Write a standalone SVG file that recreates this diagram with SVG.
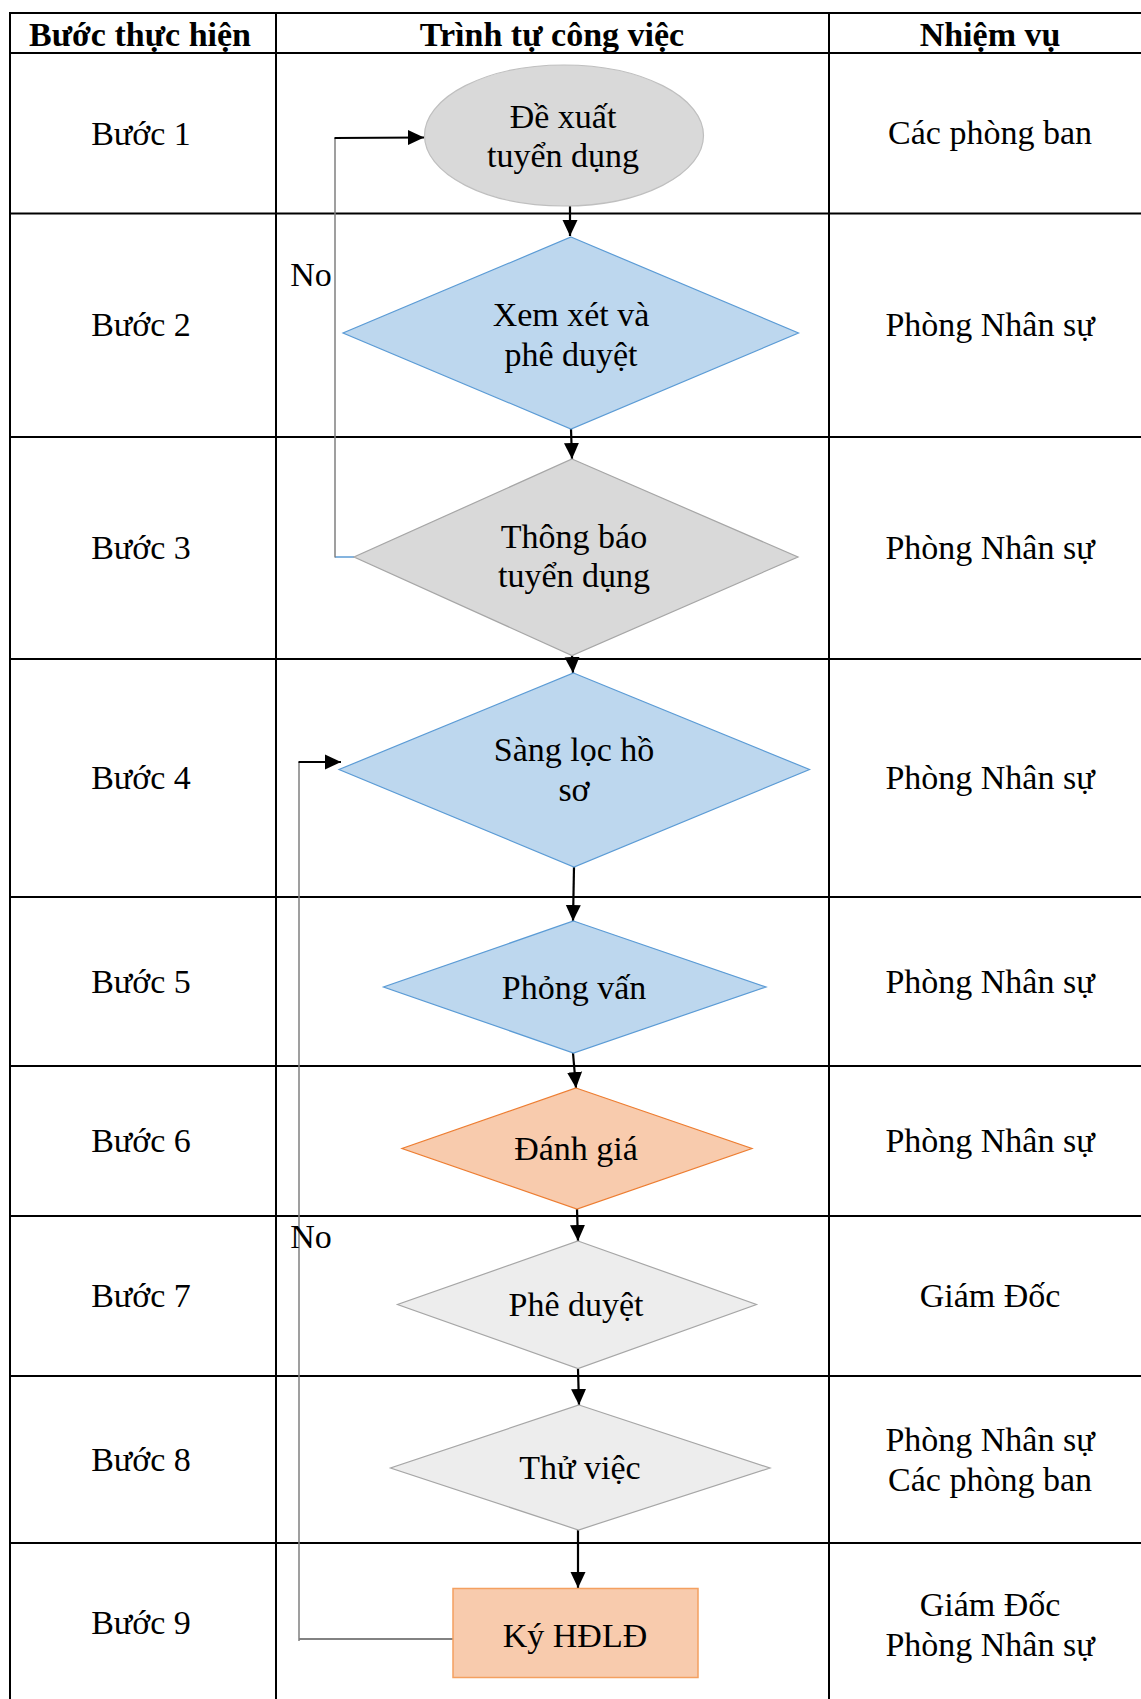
<svg xmlns="http://www.w3.org/2000/svg" width="1141" height="1699" viewBox="0 0 1141 1699">
<style>
  text { font-family: "Liberation Serif", "Times New Roman", serif; font-size: 34px; fill: #000; text-anchor: middle; }
  .hdr { font-weight: bold; }
  .grid line { stroke: #000; stroke-width: 2; }
  .arrow { stroke: #000; stroke-width: 2.2; fill: none; marker-end: url(#ah); }
  .fb { stroke: #7f7f7f; stroke-width: 1.5; fill: none; }
  .blue { fill: #bdd7ee; stroke: #5b9bd5; stroke-width: 1.2; }
  .grey { fill: #d9d9d9; stroke: #a6a6a6; stroke-width: 1.2; }
  .light { fill: #ededed; stroke: #a6a6a6; stroke-width: 1.2; }
  .orange { fill: #f8cbad; stroke: #ed7d31; stroke-width: 1.2; }
</style>
<defs>
  <marker id="ah" markerUnits="userSpaceOnUse" markerWidth="18" markerHeight="16" refX="16" refY="8" orient="auto">
    <path d="M0,0.5 L16,8 L0,15.5 z" fill="#000"/>
  </marker>
</defs>
<rect x="0" y="0" width="1141" height="1699" fill="#fff"/>

<g id="table" class="grid">
  <line x1="10" y1="13" x2="1141" y2="13"/>
  <line x1="10" y1="53" x2="1141" y2="53"/>
  <line x1="10" y1="213.5" x2="1141" y2="213.5"/>
  <line x1="10" y1="437" x2="1141" y2="437"/>
  <line x1="10" y1="659" x2="1141" y2="659"/>
  <line x1="10" y1="897" x2="1141" y2="897"/>
  <line x1="10" y1="1066" x2="1141" y2="1066"/>
  <line x1="10" y1="1216" x2="1141" y2="1216"/>
  <line x1="10" y1="1376" x2="1141" y2="1376"/>
  <line x1="10" y1="1543" x2="1141" y2="1543"/>
  <line x1="10" y1="12" x2="10" y2="1699"/>
  <line x1="276" y1="12" x2="276" y2="1699"/>
  <line x1="829" y1="12" x2="829" y2="1699"/>
</g>

<g id="headers">
  <text class="hdr" x="140" y="46">Bước thực hiện</text>
  <text class="hdr" x="552" y="46">Trình tự công việc</text>
  <text class="hdr" x="990" y="46">Nhiệm vụ</text>
</g>

<g id="steps">
  <text x="141" y="145">Bước 1</text>
  <text x="141" y="336">Bước 2</text>
  <text x="141" y="559">Bước 3</text>
  <text x="141" y="789">Bước 4</text>
  <text x="141" y="993">Bước 5</text>
  <text x="141" y="1152">Bước 6</text>
  <text x="141" y="1307">Bước 7</text>
  <text x="141" y="1471">Bước 8</text>
  <text x="141" y="1634">Bước 9</text>
</g>

<g id="duties">
  <text x="990" y="144">Các phòng ban</text>
  <text x="990" y="336">Phòng Nhân sự</text>
  <text x="990" y="559">Phòng Nhân sự</text>
  <text x="990" y="789">Phòng Nhân sự</text>
  <text x="990" y="993">Phòng Nhân sự</text>
  <text x="990" y="1152">Phòng Nhân sự</text>
  <text x="990" y="1307">Giám Đốc</text>
  <text x="990" y="1451">Phòng Nhân sự</text>
  <text x="990" y="1491">Các phòng ban</text>
  <text x="990" y="1616">Giám Đốc</text>
  <text x="990" y="1656">Phòng Nhân sự</text>
</g>

<g id="connectors">
  <line class="arrow" x1="570" y1="206" x2="570" y2="236"/>
  <line class="arrow" x1="571" y1="429" x2="572" y2="459"/>
  <line class="arrow" x1="572" y1="655" x2="573" y2="673"/>
  <line class="arrow" x1="574" y1="867" x2="573" y2="921"/>
  <line class="arrow" x1="573" y1="1053" x2="576" y2="1088"/>
  <line class="arrow" x1="577" y1="1209" x2="578" y2="1241"/>
  <line class="arrow" x1="578" y1="1369" x2="579" y2="1405"/>
  <line class="arrow" x1="578" y1="1530" x2="578" y2="1588"/>
  <line x1="354" y1="557" x2="335" y2="557" stroke="#5b9bd5" stroke-width="1.5"/>
  <line class="fb" x1="335" y1="557.5" x2="335" y2="138"/>
  <line class="arrow" x1="334.5" y1="138" x2="424" y2="137.5"/>
  <line x1="453" y1="1639" x2="299" y2="1639" stroke="#595959" stroke-width="1.5"/>
  <line class="fb" x1="299" y1="1641" x2="299" y2="762"/>
  <line class="arrow" x1="298.5" y1="762" x2="341" y2="762"/>
  <text x="311" y="286">No</text>
  <text x="311" y="1248">No</text>
</g>

<g id="n1">
  <ellipse class="grey" cx="564" cy="135.5" rx="139.5" ry="70.5" style="stroke:#bfbfbf"/>
  <text x="563" y="128">Đề xuất</text>
  <text x="563" y="167">tuyển dụng</text>
</g>
<g id="n2">
  <polygon class="blue" points="571,237 798.5,333 571,429 343,333"/>
  <text x="571" y="326">Xem xét và</text>
  <text x="571" y="366">phê duyệt</text>
</g>
<g id="n3">
  <polygon class="grey" points="572,459 798,557 572,655.5 354,557"/>
  <text x="574" y="548">Thông báo</text>
  <text x="574" y="587">tuyển dụng</text>
</g>
<g id="n4">
  <polygon class="blue" points="573.5,673 809.5,769.5 574,867 339,769.5"/>
  <text x="574" y="761">Sàng lọc hồ</text>
  <text x="574" y="801">sơ</text>
</g>
<g id="n5">
  <polygon class="blue" points="573.5,921 766,987 573.5,1053 383.5,987"/>
  <text x="574" y="999">Phỏng vấn</text>
</g>
<g id="n6">
  <polygon class="orange" points="576,1088 752,1148.5 577,1209 402,1148.5"/>
  <text x="576" y="1160">Đánh giá</text>
</g>
<g id="n7">
  <polygon class="light" points="578,1241 756.5,1304.5 578,1368.5 397.5,1304.5"/>
  <text x="576" y="1316">Phê duyệt</text>
</g>
<g id="n8">
  <polygon class="light" points="579,1405 770,1468 578.5,1530 390.5,1468"/>
  <text x="580" y="1479">Thử việc</text>
</g>
<g id="n9">
  <rect class="orange" x="453" y="1588.5" width="245" height="89" style="stroke:#f4a060;stroke-width:1.5"/>
  <text x="575" y="1647">Ký HĐLĐ</text>
</g>
</svg>
